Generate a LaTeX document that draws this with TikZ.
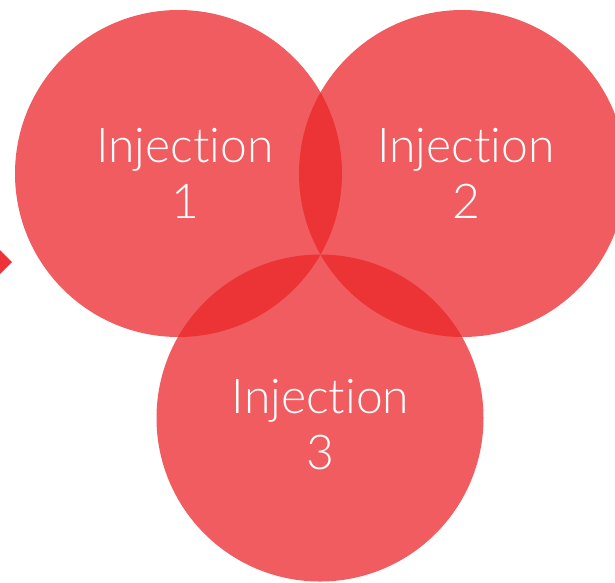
\documentclass[tikz,border=0pt]{standalone}
\usepackage{fontspec}
\newfontfamily\lightfont[RawFeature={-liga;-dlig;-clig}]{Lato Light}
\definecolor{vennred}{RGB}{235,37,41}
\definecolor{arrowred}{RGB}{238,50,56}
\tikzset{
  venn/.style={circle, minimum size=327pt, inner sep=0pt, draw=none, fill=vennred, fill opacity=0.75},
  lbl/.style={text=white, align=center, anchor=base, inner sep=0pt, font=\lightfont\fontsize{48}{56}\selectfont}
}
\begin{document}
\begin{tikzpicture}[x=1pt,y=-1pt]
\useasboundingbox (0,0) rectangle (615,582);
\node[venn] (c1) at (178.5,173.5) {};
\node[venn] (c2) at (462.5,173.5) {};
\node[venn] (c3) at (320,418) {};
\fill[arrowred] (0,250) -- (12,262) -- (0,274) -- cycle;
\node[lbl] (t1) at (185,218) {Injection\\1};
\node[lbl] (t2) at (466,218) {Injection\\2};
\node[lbl] (t3) at (320.5,469) {Injection\\3};
\end{tikzpicture}
\end{document}
